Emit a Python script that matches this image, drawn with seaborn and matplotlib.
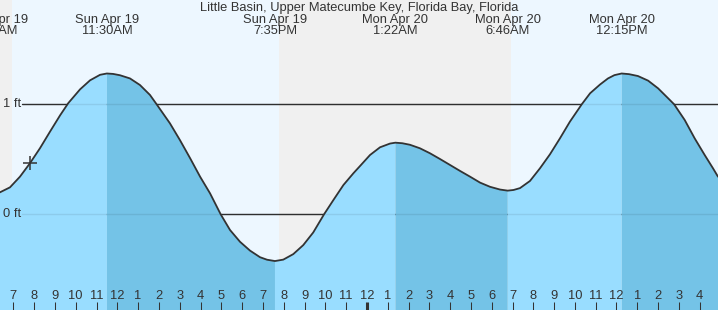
import numpy as np
import matplotlib
matplotlib.use("Agg")
import matplotlib.pyplot as plt
import seaborn as sns

# ---- data (hours since Sun Apr 19 00:00, tide height in ft) ----
hours = [6.17, 6.36, 6.84, 7.32, 7.80, 8.28, 8.76, 9.25, 9.64, 10.21, 10.69, 11.17,
         11.50, 11.80, 12.13, 12.61, 13.09, 13.57, 13.89, 14.53, 15.01, 15.50, 15.98, 16.46,
         16.97, 17.42, 17.90, 18.38, 18.86, 19.20, 19.58, 19.98, 20.46, 20.94, 21.42, 21.94,
         22.39, 22.87, 23.35, 23.67, 24.15, 24.63, 25.11, 25.37, 25.70, 26.07, 26.55, 27.03,
         27.51, 28.00, 28.48, 28.96, 29.44, 29.92, 30.40, 30.77, 31.05, 31.36, 31.84, 32.32,
         32.80, 33.28, 33.76, 34.33, 34.73, 35.21, 35.59, 35.90, 36.25, 36.60, 37.03, 37.52,
         38.00, 38.48, 38.77, 39.28, 39.76, 40.24, 40.64, 40.88]
heights = [0.19, 0.20, 0.245, 0.342, 0.464, 0.60, 0.75, 0.90, 1.01, 1.136, 1.218, 1.268,
           1.28, 1.276, 1.264, 1.235, 1.175, 1.085, 1.00, 0.827, 0.675, 0.51, 0.342, 0.19,
           0.0, -0.143, -0.25, -0.33, -0.39, -0.413, -0.425, -0.412, -0.362, -0.28, -0.165, 0.0,
           0.13, 0.266, 0.373, 0.439, 0.539, 0.609, 0.643, 0.651, 0.646, 0.632, 0.60, 0.555,
           0.503, 0.448, 0.394, 0.342, 0.288, 0.250, 0.225, 0.215, 0.221, 0.238, 0.303, 0.418,
           0.545, 0.69, 0.842, 1.0, 1.1, 1.18, 1.235, 1.265, 1.28, 1.274, 1.257, 1.215,
           1.145, 1.055, 1.0, 0.857, 0.69, 0.539, 0.418, 0.342]

ext_hours = [6.17, 11.50, 19.58, 25.37, 30.77, 36.25]
ext_kind = ["L", "H", "L", "H", "L", "H"]
ext_day = ["Sun Apr 19", "Sun Apr 19", "Sun Apr 19", "Mon Apr 20", "Mon Apr 20", "Mon Apr 20"]
ext_time = ["6:10AM", "11:30AM", "7:35PM", "1:22AM", "6:46AM", "12:15PM"]

night_spans = [(6.0, 6.94), (19.77, 30.93)]
day_spans = [(6.94, 19.77), (30.93, 41.5)]

now_hour = 7.80
now_height = 0.464

tick_hours = list(range(7, 41))
tick_labels = [str(h % 12 if h % 12 else 12) for h in tick_hours]

y_levels = [1, 0]
y_labels = ["1 ft", "0 ft"]

title = "Little Basin, Upper Matecumbe Key, Florida Bay, Florida"

# ---- style ----
sns.set_style("white")
plt.rcParams["font.family"] = ["Liberation Sans", "DejaVu Sans"]
TXT = "#333333"
FS = 9.3

fig = plt.figure(figsize=(7.18, 3.10), dpi=100)
ax = fig.add_axes([0, 0, 1, 1])
ax.set_axisbelow(False)
XMIN, XMAX = 6.36, 40.88
YMIN, YMAX = -0.87, 1.948
ax.set_xlim(XMIN, XMAX)
ax.set_ylim(YMIN, YMAX)
for s in ax.spines.values():
    s.set_visible(False)

for a, b in night_spans:
    ax.axvspan(a, b, color="#f0f0f0", zorder=0, lw=0)
for a, b in day_spans:
    ax.axvspan(a, b, color="#edf7ff", zorder=0, lw=0)

gx0 = 22 / 718
for lvl in y_levels:
    ax.axhline(lvl, xmin=gx0, xmax=1, color=TXT, lw=1.0, zorder=0.8)

t = np.round(np.array(hours), 2)
v = np.array(heights)
e = np.round(np.array(ext_hours), 2)
bounds = list(e) + [XMAX + 1]
falling = np.zeros(len(t), dtype=bool)
rising = np.zeros(len(t), dtype=bool)
for i, k in enumerate(ext_kind):
    seg = (t >= bounds[i]) & (t <= bounds[i + 1])
    if k == "H":
        falling |= seg
    else:
        rising |= seg

ax.fill_between(t, v, YMIN, where=rising, color="#99ddff", lw=0, zorder=1)
ax.fill_between(t, v, YMIN, where=falling, color="#74c3e7", lw=0, zorder=1)
for lvl in y_levels:
    ax.axhline(lvl, xmin=gx0, xmax=1, color="black", alpha=0.08, lw=1.0, zorder=1.1)

sns.lineplot(x=hours, y=heights, color="#333333", linewidth=1.3, ax=ax, zorder=3)
ax.plot([now_hour], [now_height], marker="+", ms=10, mew=1.1, color=TXT, zorder=4)

# y labels
for lvl, lab in zip(y_levels, y_labels):
    ax.text(3 / 718, lvl, lab, transform=ax.get_yaxis_transform(), ha="left",
            va="center", fontsize=FS, color=TXT)

# extreme labels
xt = ax.get_xaxis_transform()
for h, d, tm in zip(ext_hours, ext_day, ext_time):
    ax.text(h, 1 - 20 / 310, d, transform=xt, ha="center", va="center", fontsize=FS, color=TXT)
    ax.text(h, 1 - 31.5 / 310, tm, transform=xt, ha="center", va="center", fontsize=FS, color=TXT)

fig.text(0.5, 1 - 7.5 / 310, title, ha="center", va="center", fontsize=FS, color=TXT)

# hour ticks
ax.set_xticks(tick_hours)
ax.set_xticklabels(tick_labels)
ax.set_yticks([])
ax.set_xlabel("")
ax.set_ylabel("")
ax.tick_params(axis="x", direction="in", length=5.8, width=0.75, pad=-14.5,
               labelsize=FS, colors=TXT, bottom=True)
for tk, h in zip(ax.xaxis.get_major_ticks(), tick_hours):
    if h == 24:
        tk.tick1line.set_markeredgewidth(2.2)

fig.savefig("out.png", dpi=100)
